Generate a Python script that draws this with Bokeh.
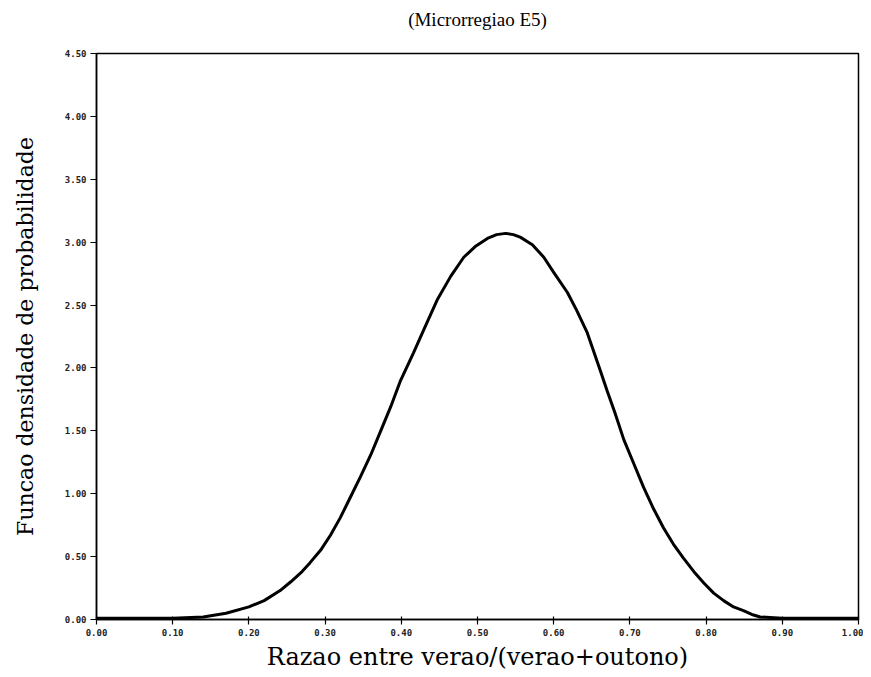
from bokeh.plotting import figure
from bokeh.models import Range1d, FixedTicker, Title
from bokeh.embed import file_html
from bokeh.resources import INLINE

# Values
ratio = [0.00, 0.05, 0.10, 0.14, 0.17, 0.20, 0.22, 0.241, 0.255, 0.268, 0.28, 0.294, 0.307,
         0.32, 0.333, 0.346, 0.36, 0.373, 0.386, 0.399, 0.416, 0.43, 0.447, 0.465, 0.482,
         0.498, 0.513, 0.525, 0.537, 0.547, 0.556, 0.572, 0.587, 0.60, 0.618, 0.63,
         0.644, 0.66, 0.670, 0.68, 0.692, 0.705, 0.718, 0.731, 0.744, 0.757, 0.770,
         0.784, 0.797, 0.81, 0.823, 0.836, 0.849, 0.86, 0.871, 0.90, 0.95, 1.00]
density = [0.01, 0.01, 0.01, 0.02, 0.05, 0.10, 0.15, 0.23, 0.30, 0.37, 0.45, 0.55, 0.67,
           0.81, 0.97, 1.13, 1.31, 1.50, 1.69, 1.90, 2.12, 2.31, 2.54, 2.73, 2.88,
           2.97, 3.03, 3.06, 3.07, 3.06, 3.04, 2.98, 2.88, 2.76, 2.60, 2.46,
           2.28, 2.00, 1.82, 1.65, 1.43, 1.24, 1.05, 0.88, 0.73, 0.60, 0.49,
           0.38, 0.29, 0.21, 0.15, 0.10, 0.07, 0.04, 0.02, 0.01, 0.01, 0.01]

x_ticks = [0.0, 0.1, 0.2, 0.3, 0.4, 0.5, 0.6, 0.7, 0.8, 0.9, 1.0]
y_ticks = [0.0, 0.5, 1.0, 1.5, 2.0, 2.5, 3.0, 3.5, 4.0, 4.5]
title_text = "(Microrregiao E5)"
x_label = "Razao entre verao/(verao+outono)"
y_label = "Funcao densidade de probabilidade"

p = figure(width=863, height=675, output_backend="svg", toolbar_location=None,
           x_range=Range1d(0, 1), y_range=Range1d(0, 4.5),
           min_border_left=96, min_border_right=5, min_border_top=53, min_border_bottom=56)

# an empty spacer title next to the frame, then the real title above it
p.add_layout(Title(text=" ", text_font_size="19px", standoff=0), "above")
p.add_layout(Title(text=title_text, align="center", text_font="Liberation Serif",
                   text_font_size="19px", text_font_style="normal", text_color="black",
                   standoff=2), "above")

p.line(ratio, density, line_color="black", line_width=3)

p.xgrid.visible = False
p.ygrid.visible = False
p.outline_line_color = "black"
p.outline_line_width = 1.5
p.background_fill_color = "white"
p.border_fill_color = "white"

p.xaxis.ticker = FixedTicker(ticks=x_ticks)
p.yaxis.ticker = FixedTicker(ticks=y_ticks)
p.xaxis.major_label_overrides = {t: f"{t:.2f}" for t in x_ticks}
p.yaxis.major_label_overrides = {t: f"{t:.2f}" for t in y_ticks}

for ax in (p.xaxis[0], p.yaxis[0]):
    ax.axis_line_color = "black"
    ax.axis_line_width = 1.5
    ax.major_tick_line_color = "black"
    ax.major_tick_line_width = 1.2
    ax.minor_tick_line_color = None
    ax.major_label_text_font = "DejaVu Sans Mono"
    ax.major_label_text_font_size = "9px"
    ax.major_label_text_font_style = "bold"
    ax.major_label_text_color = "#222222"
    ax.axis_label_text_font = "DejaVu Serif"
    ax.axis_label_text_font_style = "normal"
    ax.axis_label_text_color = "black"

p.xaxis.axis_label = x_label
p.yaxis.axis_label = y_label
p.xaxis.axis_label_text_font_size = "24px"
p.yaxis.axis_label_text_font_size = "22px"
p.xaxis.major_tick_out = 5
p.xaxis.major_tick_in = 3
p.yaxis.major_tick_out = 6
p.yaxis.major_tick_in = 0
p.xaxis.major_label_standoff = 4
p.yaxis.major_label_standoff = 4
p.xaxis.axis_label_standoff = 4
p.yaxis.axis_label_standoff = 24

open("out.html", "w").write(file_html(p, INLINE))
